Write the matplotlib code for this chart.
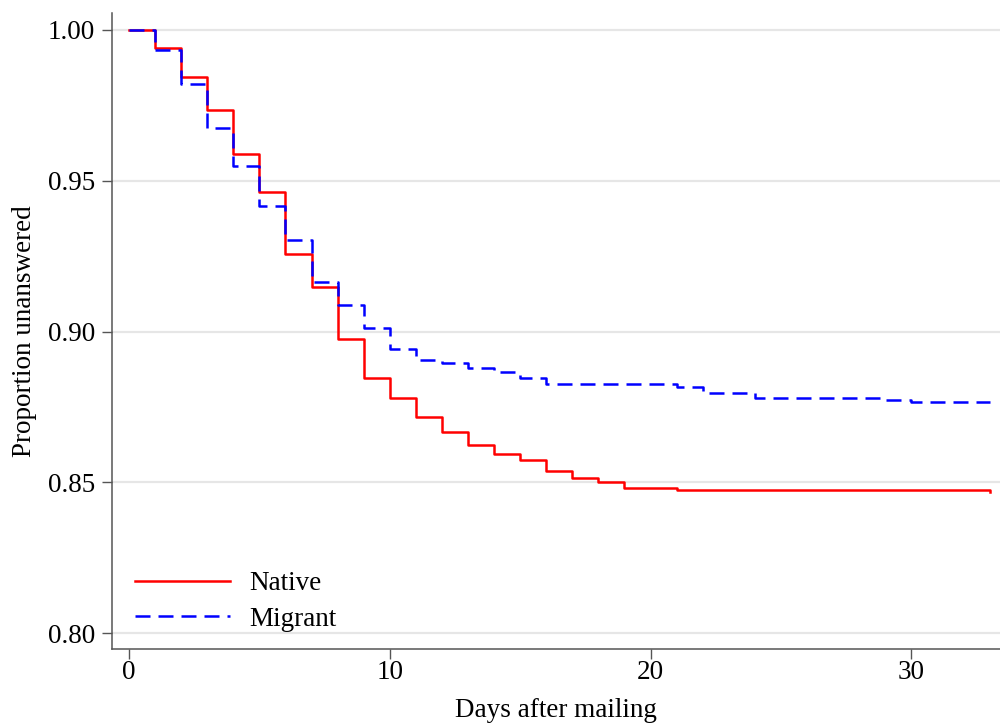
import matplotlib
matplotlib.use("Agg")
import matplotlib.pyplot as plt

days = [0, 1, 2, 3, 4, 5, 6, 7, 8, 9, 10, 11, 12, 13, 14, 15, 16, 17, 18, 19, 21, 33]
native = [1.000, 0.9941, 0.9843, 0.9735, 0.9590, 0.9464, 0.9256, 0.9149, 0.8975,
          0.8847, 0.8781, 0.8715, 0.8668, 0.8623, 0.8594, 0.8575, 0.8536, 0.8515,
          0.8502, 0.8480, 0.8474, 0.8469]

days_m = [0, 1, 2, 3, 4, 5, 6, 7, 8, 9, 10, 11, 12, 13, 14, 15, 16, 21, 22, 24, 29, 30, 33]
migrant = [1.000, 0.9935, 0.9821, 0.9674, 0.9549, 0.9416, 0.9303, 0.9164, 0.9088,
           0.9011, 0.8942, 0.8906, 0.8894, 0.8878, 0.8866, 0.8845, 0.8827, 0.8816,
           0.8795, 0.8780, 0.8774, 0.8767, 0.8767]

yticks = [0.80, 0.85, 0.90, 0.95, 1.00]
ytick_labels = ["0.80", "0.85", "0.90", "0.95", "1.00"]
xticks = [0, 10, 20, 30]

plt.rcParams['font.family'] = ['Liberation Serif', 'DejaVu Serif']

fig = plt.figure(figsize=(10, 7.26), dpi=100)
ax = fig.add_axes([0.112, 0.106, 0.888, 0.876])

for y in yticks:
    ax.axhline(y, color='#e6e6e6', lw=1.6, zorder=0)

ax.plot(days, native, drawstyle='steps-post', color='red', lw=1.8, label='Native', zorder=2)
ax.plot(days_m, migrant, drawstyle='steps-post', color='blue', lw=1.8,
        dashes=(6, 3.2), label='Migrant', zorder=3)

ax.set_xlim(-0.65, 33.4)
ax.set_ylim(0.7947, 1.0056)
ax.set_yticks(yticks)
ax.set_yticklabels(ytick_labels)
ax.set_xticks(xticks)

for s in ['top', 'right']:
    ax.spines[s].set_visible(False)
for s in ['left', 'bottom']:
    ax.spines[s].set_color('#555555')
    ax.spines[s].set_linewidth(1.1)

ax.tick_params(axis='both', direction='out', length=7, width=1, color='#555555',
               labelsize=19.5)
ax.tick_params(axis='y', pad=5)
ax.tick_params(axis='x', pad=1)

ax.set_xlabel('Days after mailing', fontsize=19.5, labelpad=9)
ax.set_ylabel('Proportion unanswered', fontsize=19.5, labelpad=8)

ax.legend(loc='lower left', frameon=False, fontsize=19.5, handlelength=3.5,
          handletextpad=0.7, labelspacing=0.4, bbox_to_anchor=(0.026, 0.027),
          borderaxespad=0.0, borderpad=0.0)

fig.savefig('out.png', dpi=100)
